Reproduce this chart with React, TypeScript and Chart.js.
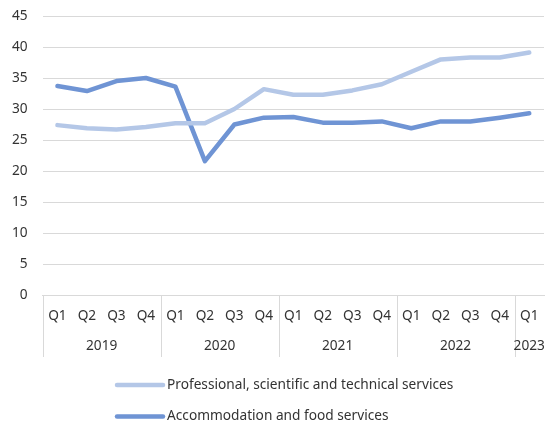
import React, { useEffect, useRef } from "react";
import { Chart, registerables } from "chart.js";

Chart.register(...registerables);

const quarterLabels = [
  "Q1", "Q2", "Q3", "Q4",
  "Q1", "Q2", "Q3", "Q4",
  "Q1", "Q2", "Q3", "Q4",
  "Q1", "Q2", "Q3", "Q4",
  "Q1",
];
const yearLabels = [
  "2019", "2019", "2019", "2019",
  "2020", "2020", "2020", "2020",
  "2021", "2021", "2021", "2021",
  "2022", "2022", "2022", "2022",
  "2023",
];
const professionalValues = [
  27.4, 26.9, 26.7, 27.1, 27.7, 27.7, 30.0, 33.2,
  32.3, 32.3, 33.0, 34.0, 36.0, 38.0, 38.3, 38.3, 39.1,
];
const accommodationValues = [
  33.7, 32.9, 34.5, 35.0, 33.6, 21.6, 27.5, 28.6,
  28.7, 27.8, 27.8, 28.0, 26.9, 28.0, 28.0, 28.6, 29.3,
];
const seriesNames = [
  "Professional, scientific and technical services",
  "Accommodation and food services",
];
const yTicks = [0, 5, 10, 15, 20, 25, 30, 35, 40, 45];

const FONT = "'Noto Sans', sans-serif";
const FONT_SIZE = 13.7;
const TEXT = "#333333";
const GRID = "#D9D9D9";
const LIGHT = "#B4C7E7";
const DARK = "#6F94D4";

// Year row of the two-level category axis, plus the stacked legend
const axisAndLegend = {
  id: "axisAndLegend",
  afterDraw(chart: any) {
    const ctx = chart.ctx;
    const x = chart.scales.x;
    const area = chart.chartArea;
    const step = x.getPixelForValue(1) - x.getPixelForValue(0);
    const half = step / 2;
    const sepBottom = area.bottom + 62;

    ctx.save();
    ctx.strokeStyle = GRID;
    ctx.lineWidth = 1;
    ctx.fillStyle = TEXT;
    ctx.font = `${FONT_SIZE}px ${FONT}`;
    ctx.textAlign = "center";
    ctx.textBaseline = "middle";

    let start = 0;
    for (let i = 1; i <= yearLabels.length; i++) {
      if (i === yearLabels.length || yearLabels[i] !== yearLabels[start]) {
        const left = x.getPixelForValue(start) - half;
        const right = x.getPixelForValue(i - 1) + half;
        const lx = Math.round(left) + 0.5;
        ctx.beginPath();
        ctx.moveTo(lx, area.bottom);
        ctx.lineTo(lx, sepBottom);
        ctx.stroke();
        ctx.fillText(yearLabels[start], (left + right) / 2, area.bottom + 51);
        start = i;
      }
    }

    // legend
    const rows = [385, 416.5];
    ctx.textAlign = "left";
    ctx.lineCap = "round";
    ctx.lineWidth = 4.5;
    chart.data.datasets.forEach((d: any, i: number) => {
      const y = rows[i];
      ctx.strokeStyle = d.borderColor;
      ctx.beginPath();
      ctx.moveTo(117, y);
      ctx.lineTo(163, y);
      ctx.stroke();
      ctx.fillStyle = TEXT;
      ctx.fillText(d.label, 167, y);
    });
    ctx.restore();
  },
};

export default function App() {
  const ref = useRef<HTMLCanvasElement>(null);

  useEffect(() => {
    document.body.style.margin = "0";
    const canvas = ref.current;
    if (!canvas) return;
    const chart = new Chart(canvas, {
      type: "line",
      data: {
        labels: quarterLabels,
        datasets: [
          {
            label: seriesNames[0],
            data: professionalValues,
            borderColor: LIGHT,
            backgroundColor: LIGHT,
            borderWidth: 4.5,
            pointRadius: 0,
            borderCapStyle: "round",
            borderJoinStyle: "round",
            tension: 0,
          },
          {
            label: seriesNames[1],
            data: accommodationValues,
            borderColor: DARK,
            backgroundColor: DARK,
            borderWidth: 4.5,
            pointRadius: 0,
            borderCapStyle: "round",
            borderJoinStyle: "round",
            tension: 0,
          },
        ],
      },
      options: {
        responsive: false,
        animation: false,
        layout: { padding: { left: 0, right: 1, top: 16, bottom: 68 } },
        plugins: {
          legend: { display: false },
          tooltip: { enabled: false },
        },
        scales: {
          x: {
            offset: true,
            grid: { display: false, drawTicks: false },
            border: { display: true, color: GRID, width: 1 },
            ticks: {
              autoSkip: false,
              maxRotation: 0,
              padding: 13,
              color: TEXT,
              font: { family: FONT, size: FONT_SIZE },
            },
            afterFit: (s: any) => {
              s.height = 62;
              s.paddingLeft = 0;
              s.paddingRight = 0;
            },
          },
          y: {
            min: 0,
            max: 45,
            afterBuildTicks: (s: any) => {
              s.ticks = yTicks.map((v) => ({ value: v }));
            },
            grid: { color: GRID, lineWidth: 1, drawTicks: false },
            border: { display: false },
            ticks: {
              padding: 15,
              color: TEXT,
              font: { family: FONT, size: FONT_SIZE },
            },
            afterFit: (s: any) => {
              s.width = 42.7;
              s.paddingTop = 0;
              s.paddingBottom = 0;
            },
          },
        },
      },
      plugins: [axisAndLegend],
    });
    return () => chart.destroy();
  }, []);

  return (
    <div style={{ width: 545, height: 425 }}>
      <canvas ref={ref} width={545} height={425} />
    </div>
  );
}
